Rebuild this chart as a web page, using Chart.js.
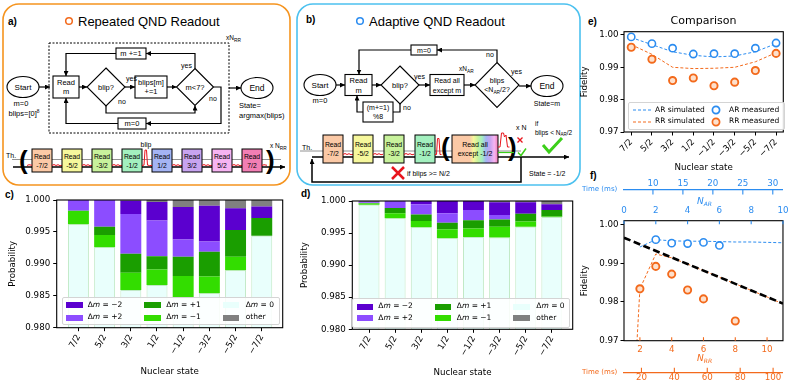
<!DOCTYPE html>
<html>
<head>
<meta charset="utf-8">
<script src="https://cdn.jsdelivr.net/npm/chart.js@4.4.1/dist/chart.umd.min.js"></script>
<style>
  body { margin: 0; background: #fff; }
  #page { position: relative; width: 793px; height: 382px; overflow: hidden; font-family: "DejaVu Sans", sans-serif; }
  #diag { position: absolute; left: 0; top: 0; font-family: "Liberation Sans", Arial, sans-serif; }
  canvas { position: absolute; }
  .ov { position: absolute; white-space: nowrap; line-height: 1; z-index: 5; }
  .leg { position: absolute; background: rgba(255,255,255,0.85); border: 1px solid #d4d4d4; border-radius: 2px; z-index: 5; font-size: 7.5px; }
  .leg .it { position: absolute; white-space: nowrap; line-height: 8px; }
  .leg .sw { position: absolute; }
  sub { font-size: 6px; vertical-align: -2px; }
</style>
</head>
<body>
<div id="page">
  <svg id="diag" width="793" height="382"></svg>
  <canvas id="cC" width="290" height="192" style="left:0;top:190px"></canvas>
  <canvas id="cD" width="290" height="192" style="left:290px;top:190px"></canvas>
  <canvas id="cE" width="215" height="182" style="left:578px;top:0"></canvas>
  <canvas id="cF" width="215" height="207" style="left:578px;top:175px"></canvas>
</div>
<script>
// ── Data ────────────────────────────────────────────────────────────────────
const states   = ['7/2', '5/2', '3/2', '1/2', '−1/2', '−3/2', '−5/2', '−7/2'];
const stateIdx = [0, 1, 2, 3, 4, 5, 6, 7];
const probTicks = [0.980, 0.985, 0.990, 0.995, 1.000];
const fidTicks  = [0.97, 0.98, 0.99, 1.00];

// c) repeated QND readout, outcome probabilities per nuclear state
const rrDm0   = [0.9962, 0.9926, 0.9859, 0.9867, 0.9847, 0.9854, 0.9890, 0.9944];
const rrDmM1  = [0.0021, 0.0019, 0.0027, 0.0024, 0.0034, 0.0026, 0.0021, 0.0000];
const rrDmP1  = [0.0000, 0.0013, 0.0030, 0.0021, 0.0030, 0.0039, 0.0042, 0.0028];
const rrDmP2  = [0.0017, 0.0042, 0.0062, 0.0056, 0.0027, 0.0016, 0.0000, 0.0000];
const rrDmM2  = [0.0000, 0.0000, 0.0021, 0.0029, 0.0051, 0.0056, 0.0034, 0.0018];
const rrOther = [0.0000, 0.0000, 0.0001, 0.0003, 0.0011, 0.0009, 0.0013, 0.0010];

// d) adaptive QND readout
const arDm0   = [0.9994, 0.9973, 0.9959, 0.9942, 0.9944, 0.9943, 0.9960, 0.9975];
const arDmM1  = [0.0002, 0.0008, 0.0010, 0.0014, 0.0013, 0.0017, 0.0008, 0.0001];
const arDmP1  = [0.0001, 0.0008, 0.0010, 0.0010, 0.0013, 0.0011, 0.0012, 0.0010];
const arDmP2  = [0.0001, 0.0011, 0.0016, 0.0015, 0.0016, 0.0007, 0.0000, 0.0000];
const arDmM2  = [0.0001, 0.0000, 0.0005, 0.0019, 0.0014, 0.0020, 0.0018, 0.0009];
const arOther = [0.0001, 0.0000, 0.0000, 0.0000, 0.0000, 0.0002, 0.0002, 0.0005];

// e) comparison
const cmpArSim  = [0.9992, 0.9970, 0.9948, 0.9937, 0.9932, 0.9935, 0.9948, 0.9973];
const cmpRrSim  = [0.9970, 0.9940, 0.9900, 0.9896, 0.9897, 0.9900, 0.9917, 0.9945];
const cmpArMeas = [0.9994, 0.9973, 0.9959, 0.9941, 0.9942, 0.9942, 0.9959, 0.9975];
const cmpRrMeas = [0.9962, 0.9925, 0.9859, 0.9867, 0.9843, 0.9854, 0.9890, 0.9943];

// f) fidelity vs number of repetitions
const nArMeas = [2, 3, 4, 5, 6];
const fArMeas = [0.9961, 0.9952, 0.9951, 0.9954, 0.9946];
const nArSim  = [1, 2, 3, 4, 5, 6, 7, 8, 9, 10];
const fArSim  = [0.9942, 0.9961, 0.9958, 0.9957, 0.9957, 0.9956, 0.9955, 0.9955, 0.9954, 0.9953];
const nRrMeas = [2, 3, 4, 5, 6, 8];
const fRrMeas = [0.9834, 0.9892, 0.9872, 0.9831, 0.9808, 0.9751];
const nRrSim  = [1, 2, 3, 4, 5, 6, 7, 8, 9, 10, 11];
const fRrSim  = [0.909, 0.9834, 0.9924, 0.9914, 0.9898, 0.9881, 0.9864, 0.9847, 0.9830, 0.9813, 0.9795];
const nBound  = [1, 11];
const fBound  = [0.9966, 0.9796];
const nArTicks = [0, 2, 4, 6, 8, 10];
const nRrTicks = [2, 4, 6, 8, 10];
const tArTicks = [10, 15, 20, 25, 30];
const tRrTicks = [20, 40, 60, 80, 100];

// ── Colours ─────────────────────────────────────────────────────────────────
const BLUE = '#2b8cf0', ORANGE = '#f36a1c';
const DM_M2 = '#5b00cf', DM_P2 = '#8c4dff', DM_P1 = '#1a9e00', DM_M1 = '#33dd00', DM_0 = '#e9fffc', OTHER = '#808080';

const pts = (xs, ys) => xs.map((x, i) => ({ x, y: ys[i] }));
const setTicks = vals => s => { s.ticks = vals.map(v => ({ value: v })); };

Chart.defaults.font.family = "'DejaVu Sans', sans-serif";
Chart.defaults.font.size = 8.7;
Chart.defaults.color = '#000';

// ── Plugins ─────────────────────────────────────────────────────────────────
const frame = {
  id: 'frame',
  afterDraw(chart) {
    const { ctx, chartArea: a } = chart;
    ctx.save();
    ctx.strokeStyle = '#000'; ctx.lineWidth = 1.1;
    ctx.strokeRect(a.left, a.top, a.right - a.left, a.bottom - a.top);
    ctx.restore();
  }
};

// tick marks pointing toward the plot (matplotlib direction='in')
const inTicks = {
  id: 'inTicks',
  afterDraw(chart, args, opts) {
    const ctx = chart.ctx;
    (opts.list || []).forEach(([id, len]) => {
      const s = chart.scales[id];
      const top = s.position === 'top';
      const y0 = top ? s.bottom : s.top;
      ctx.save();
      ctx.strokeStyle = s.options.ticks.color; ctx.lineWidth = 1.1;
      s.ticks.forEach(t => {
        const x = s.getPixelForValue(t.value);
        ctx.beginPath(); ctx.moveTo(x, y0); ctx.lineTo(x, y0 + (top ? len : -len)); ctx.stroke();
      });
      ctx.restore();
    });
  }
};

const outGrid = { drawOnChartArea: false, offset: false, tickLength: 3.5, color: '#000', lineWidth: 1 };

// ── c) / d) stacked bars ────────────────────────────────────────────────────
function stackChart(id, parts, xMin, xMax, pad, yW, xH, yTitlePad, xTitlePad) {
  const names  = ['Δm = 0', 'Δm = −1', 'Δm = +1', 'Δm = +2', 'Δm = −2', 'other'];
  const colors = [DM_0, DM_M1, DM_P1, DM_P2, DM_M2, OTHER];
  return new Chart(document.getElementById(id), {
    type: 'bar',
    data: {
      datasets: parts.map((vals, k) => ({
        label: names[k], data: pts(stateIdx, vals),
        backgroundColor: colors[k],
        borderColor: k === 0 ? 'rgba(140,215,150,0.55)' : colors[k],
        borderWidth: k === 0 ? 1 : 0,
        barPercentage: 0.8, categoryPercentage: 1, clip: 0,
      })),
    },
    options: {
      responsive: false, animation: false,
      layout: { padding: pad },
      plugins: { legend: { display: false }, tooltip: { enabled: false } },
      scales: {
        x: {
          type: 'linear', stacked: true, offset: false, min: xMin, max: xMax,
          afterBuildTicks: setTicks(stateIdx),
          afterFit: s => { s.height = xH; },
          ticks: { autoSkip: false, minRotation: 60, maxRotation: 60, padding: 1.5, callback: v => states[v] },
          grid: outGrid, border: { display: false },
          title: { display: true, text: 'Nuclear state', padding: { top: 0, bottom: xTitlePad } },
        },
        y: {
          type: 'linear', stacked: true, min: 0.98, max: 1.0,
          afterBuildTicks: setTicks(probTicks),
          afterFit: s => { s.width = yW; },
          ticks: { padding: 3, callback: v => v.toFixed(3) },
          grid: outGrid, border: { display: false },
          title: { display: true, text: 'Probability', padding: { top: yTitlePad, bottom: 0 } },
        },
      },
    },
    plugins: [frame],
  });
}

stackChart('cC', [rrDm0, rrDmM1, rrDmP1, rrDmP2, rrDmM2, rrOther], -0.83, 7.8,
  { top: 10, right: 7.3, left: 0, bottom: 0 }, 56.7, 54.3, 8, 5);
stackChart('cD', [arDm0, arDmM1, arDmP1, arDmP2, arDmM2, arOther], -0.64, 7.8,
  { top: 11, right: 7.3, left: 0, bottom: 0 }, 62.3, 52.7, 9.8, 4);

// ── e) comparison ───────────────────────────────────────────────────────────
new Chart(document.getElementById('cE'), {
  type: 'line',
  data: {
    datasets: [
      { label: 'AR measured', data: pts(stateIdx, cmpArMeas), showLine: false, borderColor: BLUE, backgroundColor: '#fff', pointRadius: 3.6, pointBorderWidth: 1.6, order: 0 },
      { label: 'RR measured', data: pts(stateIdx, cmpRrMeas), showLine: false, borderColor: ORANGE, backgroundColor: '#fde0cc', pointRadius: 3.6, pointBorderWidth: 1.9, order: 0 },
      { label: 'AR simulated', data: pts(stateIdx, cmpArSim), borderColor: BLUE, borderWidth: 1, borderDash: [3, 2], pointRadius: 0, order: 1 },
      { label: 'RR simulated', data: pts(stateIdx, cmpRrSim), borderColor: ORANGE, borderWidth: 1, borderDash: [3, 2], pointRadius: 0, order: 1 },
    ],
  },
  options: {
    responsive: false, animation: false,
    layout: { padding: { top: 31.7, right: 9.7, left: 0, bottom: 0 } },
    plugins: { legend: { display: false }, tooltip: { enabled: false } },
    scales: {
      x: {
        type: 'linear', min: -0.35, max: 7.35,
        afterBuildTicks: setTicks(stateIdx),
        afterFit: s => { s.height = 50; },
        ticks: { autoSkip: false, minRotation: 45, maxRotation: 45, padding: 1.5, callback: v => states[v] },
        grid: outGrid, border: { display: false },
        title: { display: true, text: 'Nuclear state', padding: { top: 0, bottom: 8.8 } },
      },
      y: {
        type: 'linear', min: 0.97, max: 1.001,
        afterBuildTicks: setTicks(fidTicks),
        afterFit: s => { s.width = 46; },
        ticks: { padding: 2, callback: v => v.toFixed(2) },
        grid: outGrid, border: { display: false },
        title: { display: true, text: 'Fidelity', padding: { top: 2, bottom: 0 } },
      },
    },
  },
  plugins: [frame],
});

// ── f) fidelity vs repetitions ──────────────────────────────────────────────
new Chart(document.getElementById('cF'), {
  type: 'line',
  data: {
    datasets: [
      { label: 'AR measured', xAxisID: 'xAR', data: pts(nArMeas, fArMeas), showLine: false, borderColor: BLUE, backgroundColor: '#fff', pointRadius: 3.6, pointBorderWidth: 1.6, order: 0 },
      { label: 'RR measured', xAxisID: 'xRR', data: pts(nRrMeas, fRrMeas), showLine: false, borderColor: ORANGE, backgroundColor: '#fde0cc', pointRadius: 3.6, pointBorderWidth: 1.9, order: 0 },
      { label: 'AR simulated', xAxisID: 'xAR', data: pts(nArSim, fArSim), borderColor: BLUE, borderWidth: 1, borderDash: [3, 2], pointRadius: 0, order: 1 },
      { label: 'bound', xAxisID: 'xRR', data: pts(nBound, fBound), borderColor: '#000', borderWidth: 2.6, borderDash: [7, 3.5], pointRadius: 0, order: 2 },
      { label: 'RR simulated', xAxisID: 'xRR', data: pts(nRrSim, fRrSim), borderColor: ORANGE, borderWidth: 1, borderDash: [3, 2], pointRadius: 0, order: 3 },
    ],
  },
  options: {
    responsive: false, animation: false,
    layout: { padding: { top: 2, right: 7.3, left: 0, bottom: 0 } },
    plugins: {
      legend: { display: false }, tooltip: { enabled: false },
      inTicks: { list: [['xAR', 3.5], ['xRR', 3.5], ['timeAR', 4.5], ['timeRR', 4.5]] },
    },
    scales: {
      y: {
        type: 'linear', min: 0.97, max: 1.001,
        afterBuildTicks: setTicks(fidTicks),
        afterFit: s => { s.width = 46; },
        ticks: { padding: 2, callback: v => v.toFixed(2) },
        grid: outGrid, border: { display: false },
        title: { display: true, text: 'Fidelity', padding: { top: 2, bottom: 0 } },
      },
      xAR: {
        type: 'linear', position: 'top', weight: 0, min: 0, max: 10,
        afterBuildTicks: setTicks(nArTicks), afterFit: s => { s.height = 30.7; },
        ticks: { color: BLUE, padding: 4.5, autoSkip: false, callback: v => String(v) },
        grid: { display: false, drawTicks: false }, border: { display: false },
      },
      timeAR: {
        type: 'linear', position: 'top', weight: 1, min: 5.17, max: 31.7,
        afterBuildTicks: setTicks(tArTicks), afterFit: s => { s.height = 13; },
        ticks: { color: BLUE, padding: 0.8, autoSkip: false, callback: v => String(v) },
        grid: { display: false, drawTicks: false }, border: { display: true, color: BLUE, width: 1.3 },
      },
      xRR: {
        type: 'linear', position: 'bottom', weight: 0, min: 1, max: 11,
        afterBuildTicks: setTicks(nRrTicks), afterFit: s => { s.height = 31.6; },
        ticks: { color: ORANGE, padding: 3.4, autoSkip: false, callback: v => String(v) },
        grid: { display: false, drawTicks: false }, border: { display: false },
      },
      timeRR: {
        type: 'linear', position: 'bottom', weight: 1, min: 9.4, max: 106,
        afterBuildTicks: setTicks(tRrTicks), afterFit: s => { s.height = 9.7; },
        ticks: { color: ORANGE, padding: 0, autoSkip: false, callback: v => String(v) },
        grid: { display: false, drawTicks: false }, border: { display: true, color: ORANGE, width: 1.3 },
      },
    },
  },
  plugins: [frame, inTicks],
});

// ── HTML overlays: legends, titles ──────────────────────────────────────────
const page = document.getElementById('page');
function overlay(html, css) {
  const d = document.createElement('div');
  d.className = 'ov'; d.innerHTML = html; d.style.cssText += css;
  page.appendChild(d);
  return d;
}

function barLegend(left, top, w, h, rows) {
  const box = document.createElement('div');
  box.className = 'leg';
  box.style.cssText += `left:${left}px;top:${top}px;width:${w}px;height:${h}px;`;
  const cols = [[3.5, 25], [81.5, 103.5], [160, 183]];
  const entries = [[DM_M2, 'Δ<i>m</i> = −2'], [DM_P2, 'Δ<i>m</i> = +2'], [DM_P1, 'Δ<i>m</i> = +1'],
                   [DM_M1, 'Δ<i>m</i> = −1'], [DM_0, 'Δ<i>m</i> = 0'], [OTHER, 'other']];
  entries.forEach(([col, txt], k) => {
    const c = cols[Math.floor(k / 2)], y = rows[k % 2];
    box.insertAdjacentHTML('beforeend',
      `<div class="sw" style="left:${c[0]}px;top:${y - 3}px;width:16.5px;height:6px;background:${col}"></div>` +
      `<div class="it" style="left:${c[1]}px;top:${y - 4.5}px">${txt}</div>`);
  });
  page.appendChild(box);
}
barLegend(61.7, 296.7, 216.3, 26.6, [7.8, 20]);
barLegend(352.3, 298.3, 216, 27.5, [7.7, 19]);

(function cmpLegend() {
  const box = document.createElement('div');
  box.className = 'leg';
  box.style.cssText += 'left:628px;top:101.7px;width:155px;height:26.6px;';
  const entries = [['line', BLUE, 'AR simulated', 4, 26, 7.6], ['line', ORANGE, 'RR simulated', 4, 26, 19],
                   ['circ', BLUE, 'AR measured', 82, 100, 7.6], ['circ', ORANGE, 'RR measured', 82, 100, 19]];
  entries.forEach(([kind, col, txt, sx, tx, y]) => {
    const sw = kind === 'line'
      ? `<svg class="sw" style="left:${sx}px;top:${y - 2}px" width="18" height="4"><line x1="0" y1="2" x2="18" y2="2" stroke="${col}" stroke-width="1" stroke-dasharray="3,2"/></svg>`
      : `<svg class="sw" style="left:${sx}px;top:${y - 5}px" width="10" height="10"><circle cx="5" cy="5" r="3.6" fill="${col === BLUE ? '#fff' : '#fde0cc'}" stroke="${col}" stroke-width="1.7"/></svg>`;
    box.insertAdjacentHTML('beforeend', sw + `<div class="it" style="left:${tx}px;top:${y - 4.5}px">${txt}</div>`);
  });
  page.appendChild(box);
})();

overlay('Comparison', 'left:643.5px;top:15px;width:120px;text-align:center;font-size:11px;');
overlay(`<i>N</i><sub><i>AR</i></sub>`, `left:697px;top:197px;font-size:9px;color:${BLUE};`);
overlay(`<i>N</i><sub><i>RR</i></sub>`, `left:697px;top:354px;font-size:9px;color:${ORANGE};`);
overlay('Time (ms)', `left:582px;top:186px;font-size:7px;color:${BLUE};`);
overlay('Time (ms)', `left:582px;top:368.5px;font-size:7px;color:${ORANGE};`);

// ── Diagrams a) and b) ──────────────────────────────────────────────────────
let g = `<defs>
  <marker id="ah" viewBox="0 0 10 10" refX="10" refY="5" markerUnits="userSpaceOnUse" markerWidth="5" markerHeight="5" orient="auto"><path d="M0,0 L10,5 L0,10 z" fill="#000"/></marker>
  <linearGradient id="rb" x1="0" x2="1" y1="0" y2="0">
    <stop offset="0" stop-color="#fbc9a6"/><stop offset="0.38" stop-color="#fbc9a6"/>
    <stop offset="0.47" stop-color="#f6f79c"/><stop offset="0.56" stop-color="#c8f29c"/>
    <stop offset="0.65" stop-color="#a3f0bf"/><stop offset="0.74" stop-color="#a4b4f4"/>
    <stop offset="0.83" stop-color="#c7a4f0"/><stop offset="0.92" stop-color="#f6b4f2"/>
    <stop offset="1" stop-color="#f27fb4"/>
  </linearGradient></defs>`;
const rect = (x, y, w, h, fill = '#fff', sw = 1.1) => { g += `<rect x="${x}" y="${y}" width="${w}" height="${h}" fill="${fill}" stroke="#000" stroke-width="${sw}"/>`; };
const text = (x, y, t, size = 7.5, anchor = 'middle', extra = '') => { g += `<text x="${x}" y="${y}" font-size="${size}" text-anchor="${anchor}" ${extra}>${t}</text>`; };
const line = (d, arrow = true, sw = 1.2, col = '#000') => { g += `<path d="${d}" fill="none" stroke="${col}" stroke-width="${sw}"${arrow ? ' marker-end="url(#ah)"' : ''}/>`; };
const dia = (cx, cy, hw, hh) => { g += `<polygon points="${cx},${cy - hh} ${cx + hw},${cy} ${cx},${cy + hh} ${cx - hw},${cy}" fill="#fff" stroke="#000" stroke-width="1.1"/>`; };
const ell = (cx, cy) => { g += `<ellipse cx="${cx}" cy="${cy}" rx="16" ry="10.5" fill="#fff" stroke="#000" stroke-width="1.1"/>`; };
const sub = t => `<tspan font-size="4.8" dy="1.6">${t}</tspan>`;
const BOLD = 'font-weight="bold"';
const readCols = ['#fbc9a6', '#f6f79c', '#c8f29c', '#a3f0bf', '#a4b4f4', '#c7a4f0', '#f6b4f2', '#f27fb4'];
const readVals = ['-7/2', '-5/2', '-3/2', '-1/2', '1/2', '3/2', '5/2', '7/2'];
const RED = '#e8141c', GREEN = '#3ccf1a';

// panel a
g += `<rect x="3" y="4" width="287" height="181" rx="16" fill="none" stroke="#f5941f" stroke-width="1.6"/>`;
text(8, 24.5, 'a)', 10, 'start', BOLD);
g += `<circle cx="69" cy="21" r="3.3" fill="none" stroke="${ORANGE}" stroke-width="1.5"/>`;
text(78, 25.5, 'Repeated QND Readout', 13, 'start');
g += `<rect x="49" y="43" width="180" height="90" fill="none" stroke="#000" stroke-width="1" stroke-dasharray="2,1.5"/>`;
text(226, 40, 'xN' + sub('RR'), 6.5, 'start');
rect(116, 48, 30, 11); text(131, 56.3, 'm +=1', 7.5);
rect(53, 76, 26, 22); text(66, 84.5, 'Read'); text(66, 94, 'm');
dia(106, 87, 19, 19); text(106, 89.5, 'blip?');
rect(135, 76, 32, 22); text(151, 84.5, 'blips[m]'); text(151, 94, '+=1');
dia(195, 87, 18.5, 18.5); text(195, 89.5, 'm&lt;7?');
rect(118, 118, 28, 11); text(132, 126.3, 'm=0');
ell(23, 87); text(23, 89.5, 'Start', 8);
ell(257, 88); text(257, 91, 'End', 8.5);
text(21, 106, 'm=0'); text(24, 116, 'blips=[0]<tspan font-size="4.8" dy="-3">8</tspan>');
text(239, 108, 'State=', 7.5, 'start'); text(239, 118, 'argmax(blips)', 7.5, 'start');
text(126, 80.5, 'yes', 7, 'start'); text(118, 104, 'no', 7, 'start');
text(181, 68, 'yes', 7, 'start'); text(209, 101, 'no', 7, 'start');
line('M39,87 H50'); line('M79,87 H87'); line('M125,87 H135'); line('M167,87 H176.5');
line('M195,68.5 V53.5 H146'); line('M116,53.5 H66 V76');
line('M106,106 V113 H195 V105.5');
line('M213.5,87 H221 V123.5 H146'); line('M118,123.5 H66 V98');
line('M229,88 H241');
// a timeline
text(6, 157.5, 'Th.', 7, 'start');
line('M12,159.5 H281', false, 0.8, '#777');
line('M13,167 H285', true, 1.5);
text(19, 169, '(', 26, 'start', BOLD); text(266, 169, ')', 26, 'start', BOLD);
readCols.forEach((c, i) => {
  const x = 32 + 30 * i;
  rect(x, 149, 20, 23, c, 1);
  text(x + 10, 158.5, 'Read', 6.8); text(x + 10, 167.5, readVals[i], 6.8);
  if (i < 7 && i !== 3) line(`M${x + 20},165.5 l2,-1 l2,1 l2,-0.8 l2,1 l2,-0.4`, false, 1, RED);
});
line('M142,165.5 l2,-0.4 l1,-15 l1.5,0 l1,15 l2,0.4 l2.5,0', false, 1, RED);
line('M27,165.5 l2,-0.8 l3,0.6', false, 1, RED); line('M262,165.5 l2,-0.8 l3,0.6', false, 1, RED);
text(146, 147, 'blip', 7);
text(270, 148, 'x N' + sub('RR'), 6.5, 'start');

// panel b
g += `<rect x="297" y="4" width="283" height="181" rx="16" fill="none" stroke="#4cc1ef" stroke-width="1.6"/>`;
text(306, 23, 'b)', 10, 'start', BOLD);
g += `<circle cx="360" cy="21" r="3.3" fill="none" stroke="${BLUE}" stroke-width="1.5"/>`;
text(369, 25.5, 'Adaptive QND Readout', 13, 'start');
ell(320, 85); text(320, 87.5, 'Start', 8); text(320, 103, 'm=0');
rect(345, 74.5, 27, 21); text(358.5, 83, 'Read'); text(358.5, 92.5, 'm');
dia(400, 85, 19, 19); text(400, 87.5, 'blip?');
text(414, 79, 'yes', 7, 'start'); text(403, 110, 'no', 7, 'start');
rect(363, 102, 30, 20); text(378, 110, '(m+=1)', 7); text(378, 119, '%8', 7);
rect(430, 74.5, 34, 21); text(447, 83, 'Read all', 7); text(447, 92.5, 'except m', 7);
text(459, 71, 'xN' + sub('AR'), 6.5, 'start');
dia(497, 85, 22, 22.5); text(497, 83, 'blips', 7);
text(497, 92, '&lt;N<tspan font-size="4.8" dy="1.6">AR</tspan><tspan dy="-1.6">/2?</tspan>', 7);
text(511, 74, 'yes', 7, 'start'); text(486, 57, 'no', 7, 'start');
rect(411, 45, 26, 10); text(424, 52.5, 'm=0', 7);
ell(547, 86); text(547, 89, 'End', 8.5); text(547, 106, 'State=m', 7);
line('M336,85 H345'); line('M372,85 H381'); line('M419,85 H430'); line('M464,85 H475'); line('M519,86 H531');
line('M497,62.5 V50 H437'); line('M411,50 H359 V74.5');
line('M400,104 V112 H393', false); line('M363,112 H357 V95.5');
// b timeline
text(302, 149.5, 'Th.', 7, 'start');
line('M300,151 H521', false, 0.8, '#777');
line('M312,157 H569', true, 1.5);
line('M521,157 V182 H312 V159', true, 1.5);
[323, 353, 384, 415].forEach((x, i) => {
  rect(x, 135, 20, 28, readCols[i], 1);
  text(x + 10, 146.5, 'Read', 6.8); text(x + 10, 156, readVals[i], 6.8);
  if (i < 3) line(`M${x + 20},154.5 l2,-1 l2,1 l2,-0.8 l2,1 l2,-0.4`, false, 1, RED);
});
line('M435,154.5 l1.5,0 l1,-16 l1.5,0 l1,16 l1.5,0', false, 1, RED);
text(441, 156, '(', 26, 'start', BOLD); text(508, 156, ')', 26, 'start', BOLD);
rect(452, 135, 46, 28, 'url(#rb)', 1);
text(475, 146.5, 'Read all', 7); text(475, 156, 'except -1/2', 7);
line('M498,147 l2,0 l1.5,-14 l2,0 l1,4 l1.5,-2 l1.5,12 l2,0', false, 1, RED);
line('M498,152.5 H514', false, 1.2, GREEN);
line('M517.5,137.5 l5,5 M522.5,137.5 l-5,5', false, 1.3, RED);
line('M518,152.5 l3,3 l5,-7', false, 1.5, GREEN);
text(516, 130, 'x N', 7, 'start');
text(535, 125.5, 'if', 6.5, 'start');
text(535, 134.5, 'blips &lt; N<tspan font-size="4.5" dy="1.5">AR</tspan><tspan dy="-1.5">/2</tspan>', 6.5, 'start');
line('M543,145 L549,152 L562,138', false, 3, GREEN);
line('M392,167 L404,179 M404,167 L392,179', false, 2.5, RED);
text(407, 176, 'if blips &gt;= N/2', 7, 'start');
text(529, 176, 'State = -1/2', 7, 'start');

// panel letters for the plots
text(5, 198, 'c)', 10, 'start', BOLD);
text(301, 197, 'd)', 10, 'start', BOLD);
text(588, 24.5, 'e)', 10, 'start', BOLD);
text(590, 179, 'f)', 10, 'start', BOLD);

document.getElementById('diag').innerHTML = g;
</script>
</body>
</html>
